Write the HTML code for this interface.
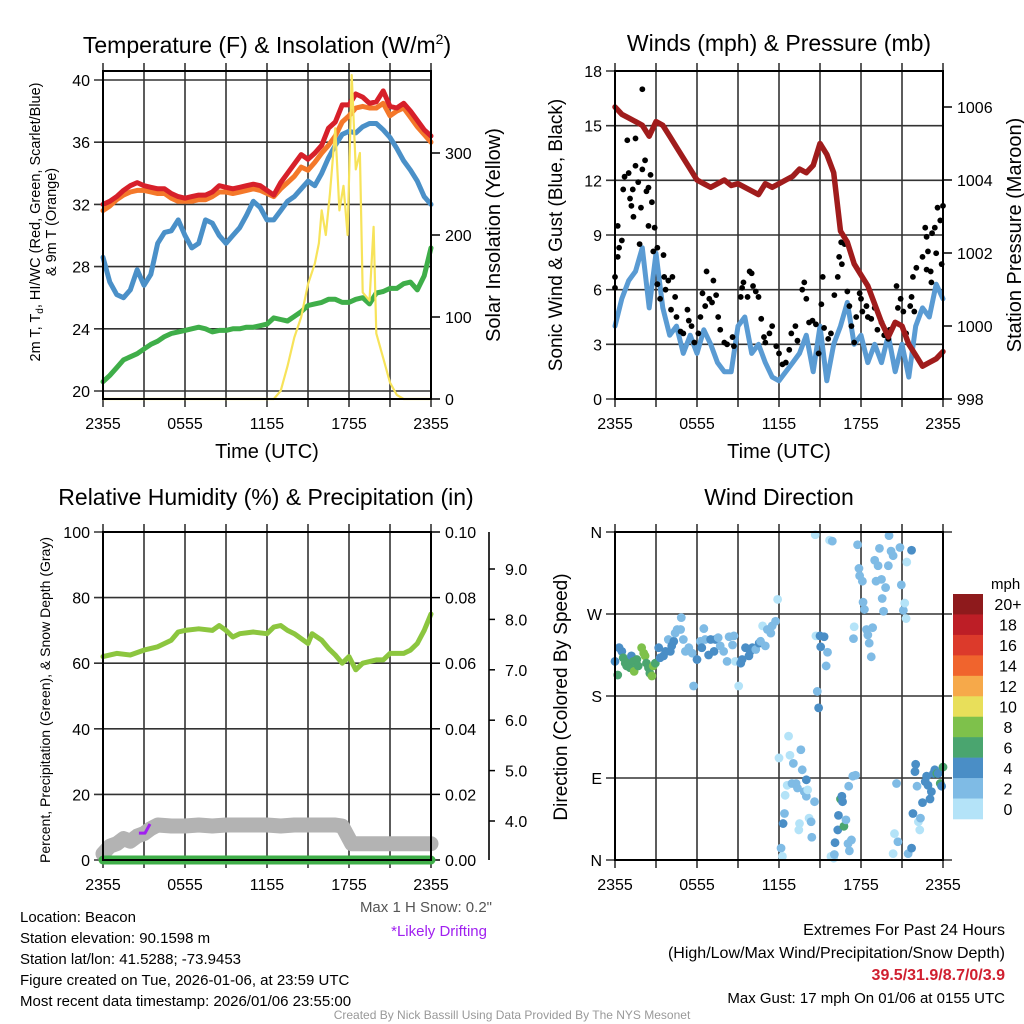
<!DOCTYPE html>
<html><head><meta charset="utf-8"><style>
html,body{margin:0;padding:0;background:#fff;}
svg{display:block;font-family:"Liberation Sans",sans-serif;}
</style></head><body>
<svg id="chart" width="1024" height="1024" viewBox="0 0 1024 1024" xmlns="http://www.w3.org/2000/svg">
<g font-size="23" text-anchor="middle" fill="#000">
<text x="267" y="53">Temperature (F) &amp; Insolation (W/m<tspan font-size="14" dy="-9">2</tspan><tspan dy="9">)</tspan></text>
<text x="779" y="51">Winds (mph) &amp; Pressure (mb)</text>
<text x="266" y="505">Relative Humidity (%) &amp; Precipitation (in)</text>
<text x="779" y="505">Wind Direction</text>
</g>
<g fill="#000">
<text x="267" y="458" font-size="20" text-anchor="middle">Time (UTC)</text>
<text x="779" y="458" font-size="20" text-anchor="middle">Time (UTC)</text>
<text transform="translate(40,222) rotate(-90)" font-size="14.5" text-anchor="middle"><tspan x="0" dy="0">2m T, T<tspan font-size="10" dy="3">d</tspan><tspan dy="-3">, HI/WC (Red, Green, Scarlet/Blue)</tspan></tspan><tspan x="0" dy="16">&amp; 9m T (Orange)</tspan></text>
<text transform="translate(500,235) rotate(-90)" font-size="20" text-anchor="middle">Solar Insolation (Yellow)</text>
<text transform="translate(562,235) rotate(-90)" font-size="19" text-anchor="middle">Sonic Wind &amp; Gust (Blue, Black)</text>
<text transform="translate(1021,235) rotate(-90)" font-size="20" text-anchor="middle">Station Pressure (Maroon)</text>
<text transform="translate(50,700) rotate(-90)" font-size="14" text-anchor="middle">Percent, Precipitation (Green), &amp; Snow Depth (Gray)</text>
<text transform="translate(567,697) rotate(-90)" font-size="19" text-anchor="middle">Direction (Colored By Speed)</text>
</g>
<g id="plots"></g>
<g font-size="15" fill="#000">
<text x="20" y="922">Location: Beacon</text>
<text x="20" y="943">Station elevation: 90.1598 m</text>
<text x="20" y="964">Station lat/lon: 41.5288; -73.9453</text>
<text x="20" y="985">Figure created on Tue, 2026-01-06, at 23:59 UTC</text>
<text x="20" y="1006">Most recent data timestamp: 2026/01/06 23:55:00</text>
<text x="492" y="912" text-anchor="end" fill="#555">Max 1 H Snow: 0.2"</text>
<text x="487" y="936" text-anchor="end" fill="#a020f0">*Likely Drifting</text>
<text x="1005" y="935" text-anchor="end" font-size="16">Extremes For Past 24 Hours</text>
<text x="1005" y="958" text-anchor="end" font-size="16">(High/Low/Max Wind/Precipitation/Snow Depth)</text>
<text x="1005" y="980" text-anchor="end" font-size="16" font-weight="bold" fill="#d02030">39.5/31.9/8.7/0/3.9</text>
<text x="1005" y="1003" text-anchor="end" font-size="15">Max Gust: 17 mph On 01/06 at 0155 UTC</text>
<text x="512" y="1019" text-anchor="middle" font-size="12" fill="#999">Created By Nick Bassill Using Data Provided By The NYS Mesonet</text>
</g>
</svg>
<script>
var hourTickLabels = ["2355","0555","1155","1755","2355"];
var tempRed = [32.0,32.2,32.5,32.9,33.2,33.4,33.2,33.1,33.0,33.0,32.7,32.5,32.4,32.5,32.6,32.6,32.8,33.2,33.1,33.0,33.1,33.2,33.3,33.2,32.9,32.6,33.4,34.0,34.6,35.2,34.9,35.3,35.8,36.9,37.3,38.4,38.4,39.1,38.9,38.5,38.6,39.3,38.3,38.2,38.5,38.0,37.4,36.8,36.4];
var temp9m = [31.6,31.9,32.3,32.6,32.8,32.9,32.9,32.8,32.7,32.7,32.4,32.2,32.2,32.2,32.3,32.3,32.5,32.8,32.8,32.7,32.8,32.9,33.0,32.9,32.7,32.5,33.0,33.4,33.8,34.4,34.2,34.7,35.3,35.8,36.4,37.3,37.7,38.2,38.3,38.2,38.2,38.5,37.7,38.0,38.2,37.6,37.0,36.5,36.0];
var windChill = [28.6,27.0,26.2,26.0,26.5,27.8,26.8,27.5,29.5,30.2,30.3,31.0,30.0,29.2,29.5,31.0,30.8,30.0,29.5,30.0,30.5,31.3,32.2,31.8,31.0,31.0,31.6,32.2,32.5,33.0,33.5,33.2,34.0,35.0,35.8,36.5,36.7,36.6,37.0,37.2,37.2,36.8,36.3,35.6,34.8,34.2,33.5,32.5,32.0];
var dewPoint = [20.6,21.0,21.5,22.0,22.2,22.4,22.7,23.0,23.2,23.5,23.7,23.8,23.9,24.0,24.1,24.0,23.8,23.9,23.9,24.0,24.0,24.1,24.1,24.2,24.3,24.7,24.6,24.5,24.8,25.1,25.5,25.6,25.7,25.9,25.9,25.7,25.7,25.9,26.0,25.6,26.3,26.4,26.6,26.6,26.9,27.0,26.5,27.4,29.2];
var solarHours = [0,12.5,13,13.5,14,14.5,15,15.5,15.8,16,16.3,16.6,17,17.3,17.6,17.9,18.2,18.5,18.8,19,19.5,19.8,20,20.5,21,21.5,22,24];
var solarValues = [0,0,10,40,75,100,140,165,190,230,200,250,330,230,260,200,395,280,300,130,120,210,80,50,20,5,0,0];
var windSpeed = [4,5.5,6.5,7,8.3,5,8,5,3.5,4,2.5,3.5,2.5,3.8,3,2,1.5,1.5,4,4.5,2.5,3,2,1.2,1,1.5,2,2.5,3.5,1.5,4,1,3,4,5.3,3,3.5,2,3,2,3.5,1.5,3,1.2,4,5,4.5,6.3,5.5];
var pressure = [1006,1005.8,1005.7,1005.6,1005.5,1005.2,1005.6,1005.5,1005.2,1004.9,1004.6,1004.3,1004.0,1003.9,1003.8,1003.9,1004.0,1003.85,1003.9,1003.8,1003.7,1003.6,1003.9,1003.8,1003.9,1004.0,1004.1,1004.3,1004.2,1004.4,1005.0,1004.7,1004.2,1002.6,1002.3,1001.7,1001.4,1001.1,1000.6,1000.1,999.7,1000.1,1000.0,999.5,999.2,998.9,999.0,999.1,999.3];
var gustHours = [0,0,0.2,0.3,0.2,0.5,0.7,0.9,1.0,0.6,1.1,1.2,1.3,1.35,1.5,1.7,1.5,1.8,1.9,2.0,2.0,2.2,2.3,2.45,2.45,2.6,2.7,2.9,2.8,3.1,3.1,3.3,3.55,3.6,3.7,3.9,4.2,4.4,4.1,4.5,4.8,5.0,5.3,5.4,5.6,5.8,6.1,6.25,6.4,6.6,6.7,6.9,7.1,7.2,7.4,7.55,7.7,8.0,8.2,8.6,8.7,9.2,9.3,9.4,9.7,9.85,10,10.1,10.3,10.5,10.7,10.9,11.0,11.3,11.5,11.8,12,12.25,12.5,12.75,12.9,13.2,13.35,13.7,13.85,14,14.2,14.45,14.7,14.9,15.1,15.2,15.3,15.6,15.8,16.05,16.3,16.4,16.55,16.6,16.8,17.0,17.15,17.3,17.5,17.65,17.9,18,18.1,18.4,18.5,18.75,19,19.2,19.5,19.7,20,20.1,20.6,20.7,20.9,21.1,21.3,21.6,21.7,21.9,21.8,22.05,22.5,22.7,22.8,22.8,22.9,23.1,23.15,23.2,23.4,23.5,23.6,23.8,23.9,24];
var gustValues = [6.7,6.1,9.5,8.3,7.8,8.7,12.2,14.2,12.4,11.5,11,10.6,11.5,10,12.8,11.9,14.3,8.5,10.5,17,12.6,13.1,11.4,11.6,9.5,12.3,10.8,9.4,8.1,8.3,6.3,5.5,7.9,6.7,6,6.5,6.7,5.6,4.9,4.5,3.7,3.6,4.9,4.3,4,3.1,3.6,4.5,5.8,5.1,7,5.5,5.3,6.5,5.7,4.5,3.8,3.1,3,3.4,2.9,5.6,6.1,6.4,5.6,7,6.9,6.2,5.9,5.6,4.4,3.4,3.1,3.6,4,2.9,2.5,1.9,2,2.7,3.6,4,3.2,6,6.4,5.5,4.2,4.3,4.1,2.5,5.2,6.7,3.9,3.3,3.6,5.7,6.7,7.8,8.6,7.4,8.5,5.9,5.1,4,3.1,4.5,5.8,5.5,4.8,5.1,4.5,4.4,5,3.8,4.2,3.5,3.3,3.8,6.2,5,5.5,4.8,3.6,5.1,5.6,4.8,6.7,7.2,7.8,9.4,8.9,7.1,8.1,7,6.4,9.1,9.4,8,10.5,9.8,7.4,10.6];
var dirHours = [0,0.2,0.3,0.5,0.6,0.75,0.85,1.0,1.1,1.2,1.35,1.4,1.6,1.7,1.95,2.1,2.2,2.3,2.45,2.55,2.7,2.8,2.95,3.2,3.3,3.55,3.7,3.9,4.05,4.15,4.3,4.4,4.55,4.8,4.85,5.0,5.15,5.4,5.65,5.75,6.0,6.25,6.35,6.5,6.6,6.85,7.0,7.25,7.35,7.55,7.7,7.95,8.2,8.35,8.6,8.7,8.8,9.05,9.2,9.3,9.55,9.8,9.9,10.05,10.3,10.55,10.65,10.8,11.0,11.15,11.4,11.5,11.75,11.9,12.0,12.15,12.25,12.4,12.3,12.45,12.6,12.7,12.8,12.95,13.05,13.25,13.35,13.45,13.5,13.6,13.7,13.85,14.0,14.0,14.1,14.2,14.35,14.4,14.6,14.65,14.7,14.8,14.9,15.0,15.05,15.3,15.45,15.55,15.7,15.9,15.8,16.0,16.05,16.1,16.3,16.35,16.5,16.6,16.65,16.75,16.9,17.05,17.15,17.3,17.1,17.4,17.6,17.5,17.45,17.75,17.85,17.9,18.1,18.15,18.25,18.4,18.5,18.6,18.75,18.85,19.0,19.1,19.25,19.35,19.5,19.55,19.65,19.8,20.0,20.05,20.2,20.35,20.6,20.45,20.35,20.7,20.85,20.95,21.1,21.2,21.3,21.35,21.7,21.45,21.7,21.8,21.95,22.0,22.1,22.2,22.3,22.35,22.5,22.7,22.8,22.9,23.05,23.15,23.3,23.4,23.55,23.65,23.8,23.9,24.0];
var dirDegrees = [218,203,233,229,222,216,213,218,211,224,218,207,220,213,233,227,224,216,211,205,202,213,216,233,222,224,229,242,229,235,240,249,253,253,266,242,229,233,227,191,220,240,233,254,242,225,242,229,242,244,235,229,218,245,236,246,218,191,216,220,233,224,229,233,231,238,240,257,235,253,249,257,262,286,112,13,4,51,40,71,82,136,115,84,106,84,79,33,40,121,99,75,88,70,77,46,42,25,64,357,246,185,167,246,234,245,213,228,351,350,4,2,6,19,33,49,67,70,64,37,44,18,10,22,81,92,93,256,243,346,320,312,306,283,275,253,247,238,223,255,329,306,323,342,308,287,273,299,323,356,339,334,84,29,7,20,343,302,274,282,265,327,340,7,13,51,97,105,81,42,33,46,63,86,92,82,67,75,95,99,95,95,84,81,102];
var dirSpeeds = [4,6,4,4,6,6,6,6,6,4,6,8,6,6,8,8,8,6,6,6,8,8,6,4,4,4,4,2,4,4,4,2,2,2,2,2,2,2,2,2,4,2,4,2,2,4,4,4,4,2,2,2,2,2,2,2,0,0,4,4,4,4,4,4,2,4,2,0,2,2,2,2,2,0,0,2,0,2,4,0,0,0,0,2,2,2,2,0,0,2,2,2,4,2,0,0,2,2,2,0,0,2,4,4,4,4,2,2,0,2,0,0,2,4,4,4,6,4,4,6,2,2,2,2,2,2,2,0,2,2,2,2,2,2,2,2,2,2,2,2,2,2,2,2,2,2,2,2,2,2,2,2,2,0,0,2,2,2,2,0,0,0,4,2,4,4,4,4,2,0,0,2,4,4,4,4,4,4,4,4,6,4,6,4,6];
var rhHours = [0,1,2,3,4,5,5.5,6,7,8,8.5,9,9.5,10,11,12,12.5,13,13.5,14,15,15.3,16,16.5,17,17.5,18,18.5,19,20,20.5,21,22,22.5,23,23.5,24];
var rhValues = [62,63,62.5,64,65,67,69.5,70,70.5,70,71.5,70,68,69,69.5,69,71,71.5,70,69,66,69,67,64.5,62.5,60,62,58,60,61,61,63,63,64,66,70,75];
var precipHours = [0,24];
var precipValues = [0,0];
var snowHours = [0,0.5,1,1.5,2,2.5,3,3.5,4,5,6,7,8,9,10,11,12,13,14,15,16,17,17.5,18.2,19,20,21,22,23,24];
var snowDepth = [3.35,3.5,3.55,3.65,3.6,3.7,3.75,3.85,3.92,3.9,3.9,3.92,3.9,3.92,3.92,3.92,3.92,3.9,3.92,3.92,3.92,3.92,3.9,3.55,3.55,3.55,3.55,3.55,3.55,3.55];
var driftHours = [2.63,3.07,3.44];
var driftDepth = [3.76,3.76,3.94];
var speedBins = [0,2,4,6,8,10,12,14,16,18,20];
var speedBinLabels = ["0","2","4","6","8","10","12","14","16","18","20+"];
var speedBinColors = ["#b4e3f8","#7fbbe5","#4a8ec6","#4aa56f","#7ec14b","#e8df5a","#f6a94a","#f0642d","#dc3a2b","#bd1e26","#8e1a1c"];
var tempTicks = [20,24,28,32,36,40];
var solarTicks = [0,100,200,300];
var windTicks = [0,3,6,9,12,15,18];
var pressureTicks = [998,1000,1002,1004,1006];
var rhTicks = [0,20,40,60,80,100];
var precipTickLabels = ["0.00","0.02","0.04","0.06","0.08","0.10"];
var snowTicks = [4,5,6,7,8,9];
var dirTicks = [0,90,180,270,360];
var dirTickLabels = ["N","E","S","W","N"];

var NS = "http://www.w3.org/2000/svg";
var root = document.getElementById("plots");
function el(tag, attrs, parent) {
  var e = document.createElementNS(NS, tag);
  for (var k in attrs) e.setAttribute(k, attrs[k]);
  (parent || root).appendChild(e);
  return e;
}
var PW = 328, PH = 328;
function xs(x0) { return function (h) { return x0 + h / 24 * PW; }; }
function lin(d0, d1, r0, r1) { return function (v) { return r0 + (v - d0) / (d1 - d0) * (r1 - r0); }; }
function evenHours(n) { var a = []; for (var i = 0; i < n; i++) a.push(i * 24 / (n - 1)); return a; }
function pathD(hours, vals, X, Y) {
  var d = "";
  for (var i = 0; i < vals.length; i++) d += (i ? "L" : "M") + X(hours[i]).toFixed(1) + "," + Y(vals[i]).toFixed(1);
  return d;
}
function frame(x0, y0, g) {
  var X = xs(x0);
  for (var h = 0; h <= 24; h += 3) {
    var ln = el("line", {x1: X(h), x2: X(h), y1: y0 - 8, y2: y0 + PH + 8, stroke: "#333", "stroke-width": 1.6}, g);
    
    
  }
  for (var i = 0; i < hourTickLabels.length; i++) {
    var t = el("text", {x: X(i * 6), y: y0 + PH + 30, "font-size": 16, "text-anchor": "middle"}, g);
    t.textContent = hourTickLabels[i];
    
    
  }
}
function leftAxis(x0, ticks, labels, Y, g, extraRight) {
  for (var i = 0; i < ticks.length; i++) {
    var y = Y(ticks[i]);
    var ln = el("line", {x1: x0 - 9, x2: x0 + PW + (extraRight || 0), y1: y, y2: y, stroke: "#333", "stroke-width": 1.6}, g);
    
    
    var t = el("text", {x: x0 - 13, y: y + 6, "font-size": 16, "text-anchor": "end"}, g);
    t.textContent = labels ? labels[i] : ticks[i];
    
    
  }
}
function rightAxis(x0, ticks, labels, Y, g) {
  for (var i = 0; i < ticks.length; i++) {
    var y = Y(ticks[i]);
    var ln = el("line", {x1: x0 + PW, x2: x0 + PW + 9, y1: y, y2: y, stroke: "#000", "stroke-width": 1.5}, g);
    
    
    var t = el("text", {x: x0 + PW + 14, y: y + 6, "font-size": 16}, g);
    t.textContent = labels ? labels[i] : ticks[i];
    
    
  }
}
function border(x0, y0, g) {
  var r = el("rect", {x: x0, y: y0, width: PW, height: PH, fill: "none", stroke: "#000", "stroke-width": 2}, g);
  
  
}
function series(hours, vals, X, Y, color, w, name, g, cap) {
  var p = el("path", {d: pathD(hours, vals, X, Y), fill: "none", stroke: color, "stroke-width": w, "stroke-linejoin": "round", "stroke-linecap": cap || "round"}, g);
  
  
  return p;
}

/* ---- Temperature panel ---- */
var g1 = el("g", {});


var X1 = xs(103), TY = lin(20, 40, 391, 80), SY = lin(0, 300, 399, 153);
frame(103, 71, g1);
leftAxis(103, tempTicks, null, TY, g1);
rightAxis(103, solarTicks, null, SY, g1);
var eh = evenHours(tempRed.length);
series(evenHours(dewPoint.length), dewPoint, X1, TY, "#3fae49", 5, "dewpoint-line", g1);
series(evenHours(windChill.length), windChill, X1, TY, "#4a90c8", 5, "wind-chill-line", g1);
series(evenHours(temp9m.length), temp9m, X1, TY, "#f4782a", 5, "temp-9m-line", g1);
series(eh, tempRed, X1, TY, "#d7202a", 5, "temp-2m-line", g1);
series(solarHours, solarValues, X1, SY, "#f7e35a", 2.2, "solar-insolation-line", g1);
border(103, 71, g1);

/* ---- Winds panel ---- */
var g2 = el("g", {});


var X2 = xs(615), WY = lin(0, 18, 399, 71), PY = lin(998, 1006, 399, 107);
frame(615, 71, g2);
leftAxis(615, windTicks, null, WY, g2);
rightAxis(615, pressureTicks, null, PY, g2);
series(evenHours(windSpeed.length), windSpeed, X2, WY, "#5a9bd3", 5, "wind-speed-line", g2);
for (var i = 0; i < gustValues.length; i++) {
  var c = el("circle", {cx: X2(gustHours[i]), cy: WY(gustValues[i]), r: 2.9, fill: "#000"}, g2);
  
  
}
series(evenHours(pressure.length), pressure, X2, PY, "#a01c1c", 5.5, "pressure-line", g2);
border(615, 71, g2);

/* ---- Humidity panel ---- */
var g3 = el("g", {});


var X3 = xs(103), RY = lin(0, 100, 860, 532), SNY = lin(4, 9, 821, 569);
frame(103, 532, g3);
leftAxis(103, rhTicks, null, RY, g3);
rightAxis(103, rhTicks, precipTickLabels, RY, g3);
var sa = el("line", {x1: 489, x2: 489, y1: 532, y2: 860, stroke: "#000", "stroke-width": 1.6}, g3);


for (var i = 0; i < snowTicks.length; i++) {
  var y = SNY(snowTicks[i]);
  var tk = el("line", {x1: 489, x2: 495, y1: y, y2: y, stroke: "#000", "stroke-width": 1.5}, g3);
  
  
  var t = el("text", {x: 505, y: y + 6, "font-size": 16}, g3);
  t.textContent = snowTicks[i].toFixed(1);
  
  
}
series(snowHours, snowDepth, X3, SNY, "#b3b3b3", 15, "snow-depth-line", g3);
series(precipHours, precipValues, X3, RY, "#3fae49", 9, "precipitation-line", g3);
series(rhHours, rhValues, X3, RY, "#8cc63f", 5, "relative-humidity-line", g3);
series(driftHours, driftDepth, X3, SNY, "#a020f0", 3, "drifting-marker", g3, "butt");
border(103, 532, g3);

/* ---- Wind direction panel ---- */
var g4 = el("g", {});


var X4 = xs(615), DY = lin(0, 360, 860, 532);
frame(615, 532, g4);
leftAxis(615, dirTicks, dirTickLabels, DY, g4, 9);
function binColor(s) { var k = 0; for (var j = 0; j < speedBins.length; j++) if (s >= speedBins[j]) k = j; return speedBinColors[k]; }
for (var i = 0; i < dirDegrees.length; i++) {
  var c = el("circle", {cx: X4(dirHours[i]), cy: DY(dirDegrees[i]), r: 4.4, fill: binColor(dirSpeeds[i])}, g4);
  
  
}
border(615, 532, g4);
var cb = el("g", {}, g4);


var ut = el("text", {x: 991, y: 589, "font-size": 15}, cb);
ut.textContent = "mph";


var n = speedBinColors.length, boxH = 225 / n;
for (var i = 0; i < n; i++) {
  var k = n - 1 - i;
  var r = el("rect", {x: 953, y: 594 + i * boxH, width: 30, height: boxH + 0.3, fill: speedBinColors[k]}, cb);
  
  
  var t = el("text", {x: 1008, y: 594 + i * boxH + boxH / 2 + 6, "font-size": 16, "text-anchor": "middle"}, cb);
  t.textContent = speedBinLabels[k];
  
  
}
</script>
</body></html>
